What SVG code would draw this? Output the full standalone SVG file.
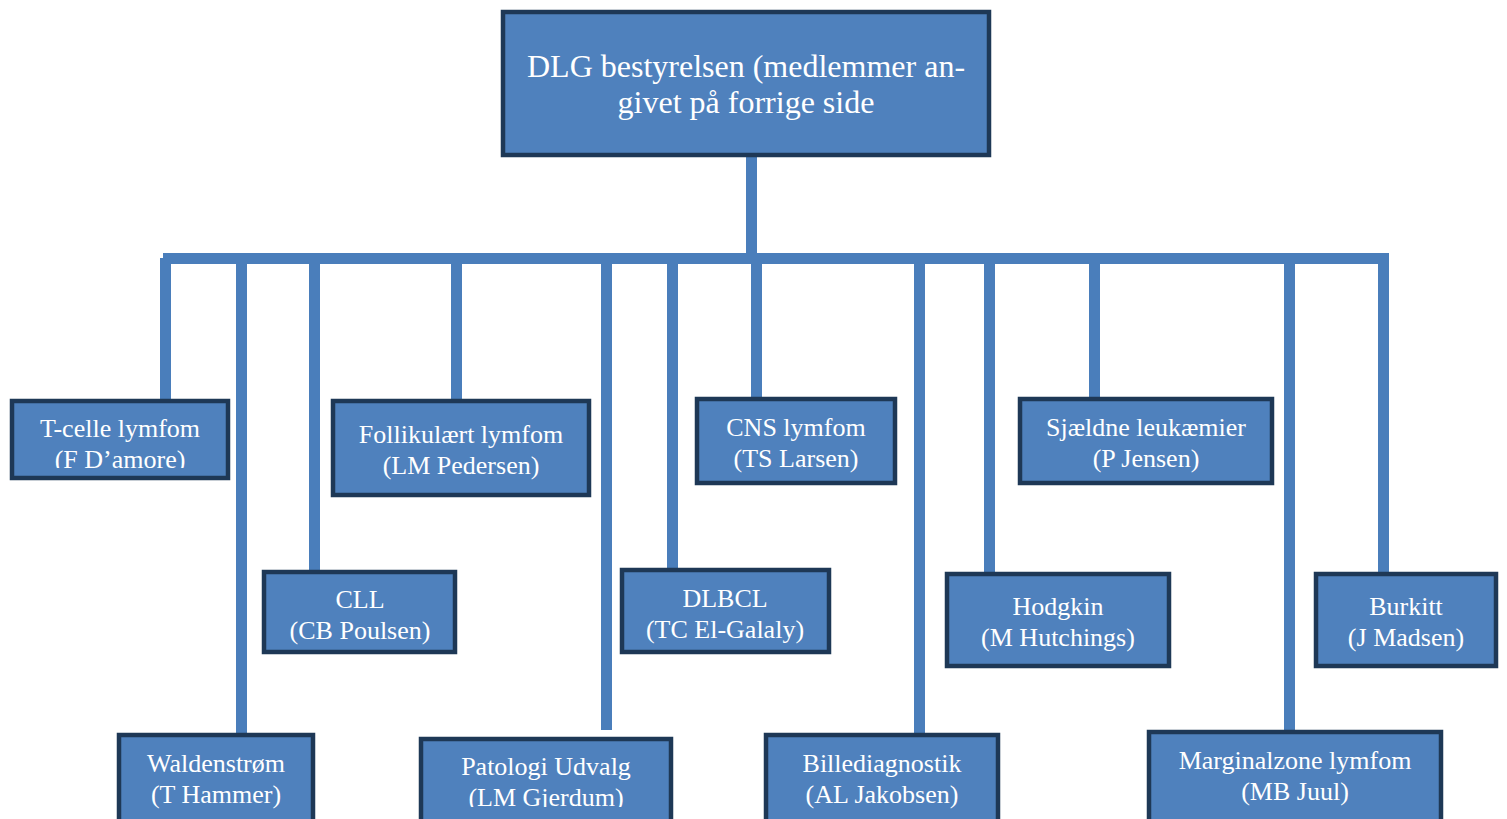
<svg xmlns="http://www.w3.org/2000/svg" width="1507" height="819" viewBox="0 0 1507 819">
<style>
.box{fill:#4f81bd;stroke:#1e3856;stroke-width:4.5}
.t{font-family:"Liberation Serif","Times New Roman",serif;font-size:26px;fill:#ffffff;text-anchor:middle}
.tt{font-family:"Liberation Serif","Times New Roman",serif;font-size:32px;fill:#ffffff;text-anchor:middle}
.c{fill:#4a7ebb}
</style>
<defs>
<clipPath id="clipT"><rect x="14" y="403" width="212" height="65"/></clipPath>
<clipPath id="clipP"><rect x="423" y="741" width="246" height="66"/></clipPath>
</defs>
<rect width="1507" height="819" fill="#ffffff"/>
<g id="connectors">
<rect class="c" x="746" y="155" width="11" height="100"/>
<rect class="c" x="163" y="253" width="1221" height="11"/>
<rect class="c" x="160" y="258" width="11" height="141"/>
<rect class="c" x="236" y="258" width="11" height="477"/>
<rect class="c" x="309" y="258" width="11" height="314"/>
<rect class="c" x="451" y="258" width="11" height="141"/>
<rect class="c" x="601" y="258" width="11" height="472"/>
<rect class="c" x="667" y="258" width="11" height="311"/>
<rect class="c" x="751" y="258" width="11" height="140"/>
<rect class="c" x="914" y="258" width="11" height="476"/>
<rect class="c" x="984" y="258" width="11" height="315"/>
<rect class="c" x="1089" y="258" width="11" height="140"/>
<rect class="c" x="1284" y="258" width="11" height="473"/>
<rect class="c" x="1378" y="253" width="11" height="320"/>
</g>
<g id="top">
<rect class="box" x="503" y="12" width="486" height="143"/>
<text class="tt" x="746" y="77">DLG bestyrelsen (medlemmer an-</text>
<text class="tt" x="746" y="113">givet på forrige side</text>
</g>
<g id="tcelle">
<rect class="box" x="12" y="401" width="216" height="77"/>
<g clip-path="url(#clipT)">
<text class="t" x="120" y="437">T-celle lymfom</text>
<text class="t" x="120" y="468">(F D’amore)</text>
</g>
</g>
<g id="follikulaert">
<rect class="box" x="333" y="401" width="256" height="94"/>
<text class="t" x="461" y="443">Follikulært lymfom</text>
<text class="t" x="461" y="474">(LM Pedersen)</text>
</g>
<g id="cns">
<rect class="box" x="697" y="399" width="198" height="84"/>
<text class="t" x="796" y="436">CNS lymfom</text>
<text class="t" x="796" y="467">(TS Larsen)</text>
</g>
<g id="sjaeldne">
<rect class="box" x="1020" y="399" width="252" height="84"/>
<text class="t" x="1146" y="436">Sjældne leukæmier</text>
<text class="t" x="1146" y="467">(P Jensen)</text>
</g>
<g id="cll">
<rect class="box" x="264" y="572" width="191" height="80"/>
<text class="t" x="360" y="608">CLL</text>
<text class="t" x="360" y="639">(CB Poulsen)</text>
</g>
<g id="dlbcl">
<rect class="box" x="622" y="570" width="207" height="82"/>
<text class="t" x="725" y="607">DLBCL</text>
<text class="t" x="725" y="638">(TC El-Galaly)</text>
</g>
<g id="hodgkin">
<rect class="box" x="947" y="574" width="222" height="92"/>
<text class="t" x="1058" y="615">Hodgkin</text>
<text class="t" x="1058" y="646">(M Hutchings)</text>
</g>
<g id="burkitt">
<rect class="box" x="1316" y="574" width="180" height="92"/>
<text class="t" x="1406" y="615">Burkitt</text>
<text class="t" x="1406" y="646">(J Madsen)</text>
</g>
<g id="waldenstrom">
<rect class="box" x="119" y="735" width="194" height="90"/>
<text class="t" x="216" y="772">Waldenstrøm</text>
<text class="t" x="216" y="803">(T Hammer)</text>
</g>
<g id="patologi">
<rect class="box" x="421" y="739" width="250" height="90"/>
<g clip-path="url(#clipP)">
<text class="t" x="546" y="775">Patologi Udvalg</text>
<text class="t" x="546" y="806">(LM Gjerdum)</text>
</g>
</g>
<g id="billede">
<rect class="box" x="766" y="735" width="232" height="90"/>
<text class="t" x="882" y="772">Billediagnostik</text>
<text class="t" x="882" y="803">(AL Jakobsen)</text>
</g>
<g id="marginal">
<rect class="box" x="1149" y="732" width="292" height="90"/>
<text class="t" x="1295" y="769">Marginalzone lymfom</text>
<text class="t" x="1295" y="800">(MB Juul)</text>
</g>
</svg>
